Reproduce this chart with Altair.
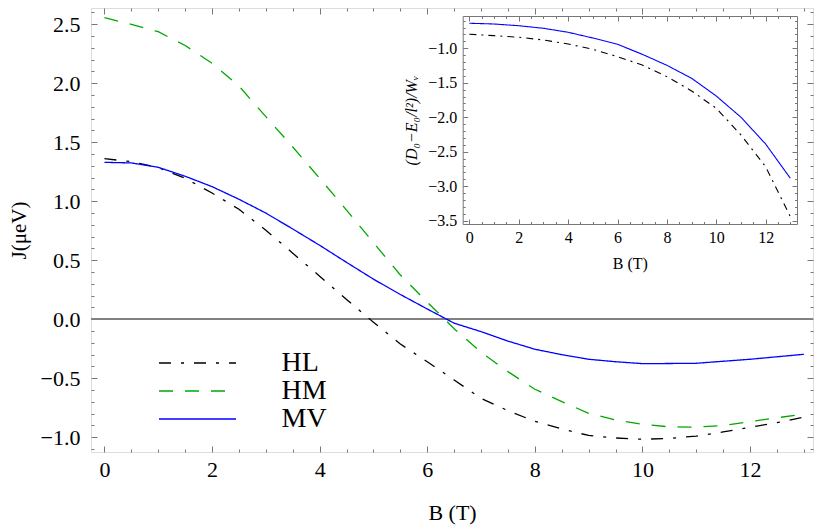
import altair as alt
import pandas as pd

# ---------------- data ----------------
B = [0, 0.5, 1, 1.5, 2, 2.5, 3, 3.5, 4, 4.5, 5, 5.5, 6, 6.5, 7, 7.5, 8, 8.5,
     9, 9.5, 10, 10.5, 11, 11.5, 12, 12.5, 13]
HL = [1.361, 1.336, 1.285, 1.195, 1.07, 0.932, 0.755, 0.56, 0.365, 0.168, -0.025,
      -0.21, -0.36, -0.515, -0.67, -0.775, -0.865, -0.93, -0.985, -1.006, -1.017,
      -1.01, -0.99, -0.955, -0.915, -0.876, -0.83]
HM = [2.556, 2.50, 2.437, 2.32, 2.17, 1.977, 1.717, 1.46, 1.195, 0.925, 0.649,
      0.375, 0.145, -0.08, -0.28, -0.444, -0.593, -0.698, -0.797, -0.853, -0.89,
      -0.912, -0.914, -0.9, -0.868, -0.835, -0.803]
MV = [1.33, 1.325, 1.288, 1.212, 1.124, 1.017, 0.90, 0.765, 0.627, 0.482, 0.34,
      0.21, 0.087, -0.033, -0.105, -0.185, -0.254, -0.30, -0.339, -0.36, -0.376,
      -0.375, -0.373, -0.356, -0.339, -0.318, -0.297]

B_in = [0, 1, 2, 3, 4, 5, 6, 7, 8, 9, 10, 11, 12, 13]
HL_in = [-0.797, -0.817, -0.84, -0.88, -0.938, -1.015, -1.121, -1.242, -1.411,
         -1.619, -1.87, -2.257, -2.717, -3.44]
MV_in = [-0.637, -0.648, -0.673, -0.71, -0.768, -0.851, -0.942, -1.087, -1.247,
         -1.435, -1.692, -2.0, -2.388, -2.885]

series = ["HL", "HM", "MV"]
colors = ["#000000", "#00a800", "#0000ff"]
dashes = [[12, 10, 3, 10], [14, 12], [1, 0]]
dashes_in = [[7, 5, 2, 5], [14, 12], [1, 0]]

x_major = [0, 2, 4, 6, 8, 10, 12]
x_minor = [v / 2 for v in range(0, 27) if v % 4 != 0]
y_major = [-1.0, -0.5, 0.0, 0.5, 1.0, 1.5, 2.0, 2.5]
y_minor = [round(v / 10, 1) for v in range(-11, 27) if v % 5 != 0]
xi_major = [0, 2, 4, 6, 8, 10, 12]
xi_minor = [v / 2 for v in range(0, 27) if v % 4 != 0]
yi_major = [-3.5, -3.0, -2.5, -2.0, -1.5, -1.0]
yi_minor = [round(v / 10, 1) for v in range(-35, -5) if v % 5 != 0]

main_df = pd.DataFrame({
    "B": B * 3,
    "J": HL + HM + MV,
    "series": ["HL"] * len(B) + ["HM"] * len(B) + ["MV"] * len(B),
})
inset_df = pd.DataFrame({
    "B": B_in * 2,
    "V": HL_in + MV_in,
    "series": ["HL"] * len(B_in) + ["MV"] * len(B_in),
})

# ---------------- geometry ----------------
W, H = 722, 444
SERIF = "Liberation Serif"
TICK = "#777777"

def sx():
    return alt.Scale(domain=[-0.25, 13.17], nice=False, zero=False)

def sy():
    return alt.Scale(domain=[-1.125, 2.638], nice=False, zero=False)

def ix():
    return alt.Scale(domain=[-0.27, 13.27], range=[371.7, 706], nice=False, zero=False)

def iy():
    return alt.Scale(domain=[-3.548, -0.532], range=[216, 8], nice=False, zero=False)

def ax(orient, values, size, offset, labels=False, fmt=".1f", title="", fs=22,
       lp=5, tp=5, domain=False, italic=False, tfs=None):
    kw = dict(orient=orient, values=values, offset=offset, labels=labels,
              domain=domain, grid=False, title=title, tickColor=TICK,
              domainColor=TICK, tickWidth=1, labelFont=SERIF, labelFontSize=fs,
              labelColor="black", labelPadding=lp, labelFlush=False,
              labelOverlap=False, format=fmt, titleFont=SERIF,
              titleFontSize=tfs if tfs else fs,
              titleFontWeight="normal", titleColor="black", titlePadding=tp)
    if size > 0:
        kw["tickSize"] = size
        kw["ticks"] = True
    else:
        kw["ticks"] = False
    if italic:
        kw["titleFontStyle"] = "italic"
    return alt.Axis(**kw)

legend = alt.Legend(
    orient="none", legendX=92.5, legendY=341, title=None,
    symbolType="M-7.7,0H7.7", symbolSize=100, symbolStrokeWidth=1.3,
    labelFont=SERIF, labelFontSize=28, labelColor="black", labelOffset=70,
    rowPadding=0, padding=0,
)

# main curves with labelled bottom / left axes
main_lines = alt.Chart(main_df).mark_line(strokeWidth=1.3).encode(
    x=alt.X("B:Q", scale=sx(), axis=ax("bottom", x_major, 6, -6, labels=True,
                                        fmt="d", title="B (T)", lp=7, tp=22)),
    y=alt.Y("J:Q", scale=sy(), axis=ax("left", y_major, 6, -6, labels=True,
                                        fmt=".1f", title="J(μeV)", lp=11, tp=11, tfs=21)),
    color=alt.Color("series:N", scale=alt.Scale(domain=series, range=colors), legend=legend),
    strokeDash=alt.StrokeDash("series:N", scale=alt.Scale(domain=series, range=dashes), legend=legend),
    order=alt.Order("B:Q"),
)

zero_line = alt.Chart(main_df).mark_rule(color="#808080", strokeWidth=1).encode(
    y=alt.Y(datum=0, scale=sy(), axis=None)
)

def ghost(df, yfield, xs, ys, xaxis, yaxis):
    return alt.Chart(df).mark_point(opacity=0).encode(
        x=alt.X("B:Q", scale=xs, axis=xaxis),
        y=alt.Y(yfield, scale=ys, axis=yaxis),
    )

main_tr = ghost(main_df, "J:Q", sx(), sy(),
                ax("top", x_major, 6, -6), ax("right", y_major, 6, -6))
main_minor_bl = ghost(main_df, "J:Q", sx(), sy(),
                      ax("bottom", x_minor, 3, -3), ax("left", y_minor, 3, -3))
main_minor_tr = ghost(main_df, "J:Q", sx(), sy(),
                      ax("top", x_minor, 3, -3), ax("right", y_minor, 3, -3))

# inset
inset_lines = alt.Chart(inset_df).mark_line(strokeWidth=1.1).encode(
    x=alt.X("B:Q", scale=ix(), axis=ax("bottom", xi_major, 5, -(H - 216 + 5), labels=True,
                                        fmt="d", title="B (T)", fs=16, lp=5, tp=10)),
    y=alt.Y("V:Q", scale=iy(), axis=ax("left", yi_major, 5, -(371.7 + 5), labels=True,
                                        fmt=".1f", title="(D₀−E₀/l²)/Wᵥ", fs=16, lp=6,
                                        tp=8, italic=True)),
    color=alt.Color("series:N", scale=alt.Scale(domain=series, range=colors), legend=None),
    strokeDash=alt.StrokeDash("series:N", scale=alt.Scale(domain=series, range=dashes_in), legend=None),
    order=alt.Order("B:Q"),
)
inset_tr = ghost(inset_df, "V:Q", ix(), iy(),
                 ax("top", xi_major, 5, -(8 + 5)), ax("right", yi_major, 5, -(W - 706 + 5)))
inset_minor_bl = ghost(inset_df, "V:Q", ix(), iy(),
                       ax("bottom", xi_minor, 2.5, -(H - 216 + 2.5)),
                       ax("left", yi_minor, 2.5, -(371.7 + 2.5)))
inset_minor_tr = ghost(inset_df, "V:Q", ix(), iy(),
                       ax("top", xi_minor, 2.5, -(8 + 2.5)),
                       ax("right", yi_minor, 2.5, -(W - 706 + 2.5)))
inset_frame_bl = ghost(inset_df, "V:Q", ix(), iy(),
                       ax("bottom", xi_major, 0, -(H - 216), domain=True),
                       ax("left", yi_major, 0, -371.7, domain=True))
inset_frame_tr = ghost(inset_df, "V:Q", ix(), iy(),
                       ax("top", xi_major, 0, -8, domain=True),
                       ax("right", yi_major, 0, -(W - 706), domain=True))

chart = alt.layer(
    zero_line, main_lines, main_tr, main_minor_bl, main_minor_tr,
    inset_lines, inset_tr, inset_minor_bl, inset_minor_tr, inset_frame_bl, inset_frame_tr,
).resolve_scale(
    x="independent", y="independent", color="independent", strokeDash="independent"
).resolve_axis(
    x="independent", y="independent"
).properties(
    width=W, height=H,
    padding={"left": 83, "top": 0, "right": 1, "bottom": 76},
    autosize=alt.AutoSizeParams(type="none"),
).configure_view(
    stroke=TICK, strokeWidth=1
).configure(background="white")

chart.save("out.html", embed_options={"renderer": "svg", "actions": False})
